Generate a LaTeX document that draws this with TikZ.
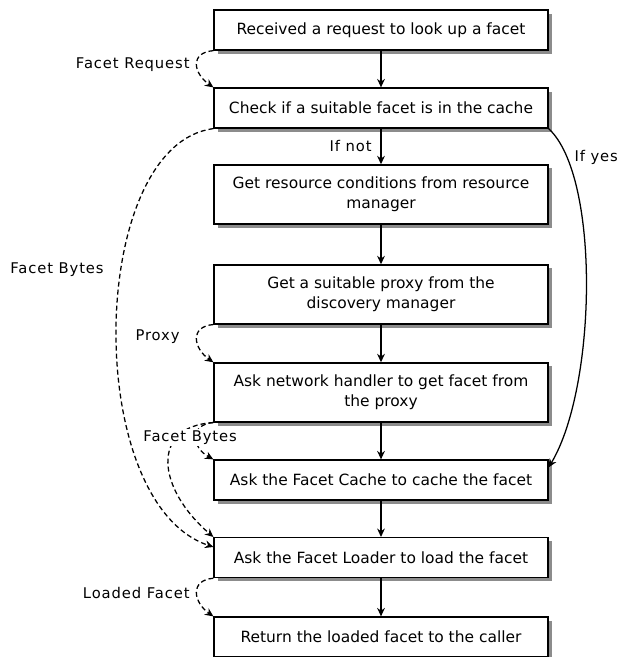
\documentclass[tikz,border=0pt]{standalone}
\usepackage{fontspec}
\setmainfont{DejaVu Sans}
\newfontfamily\lblfont{DejaVu Sans}[LetterSpace=6]
\usetikzlibrary{arrows.meta}

\begin{document}
\begin{tikzpicture}[
  stepbox/.style={draw, line width=0.9pt, fill=white, minimum width=8.35cm, minimum height=1cm, align=center,
    font=\fontsize{11}{14}\selectfont},
  tallbox/.style={stepbox, minimum height=1.475cm},
  boxshade/.style={line width=2.2pt, black!45},
  flow/.style={line width=0.9pt, -{Stealth[length=6pt,width=5.5pt]}},
  data/.style={flow, dash pattern=on 3.5pt off 2.2pt},
  lbl/.style={font=\lblfont\fontsize{10.5}{12}\selectfont}
]
 \useasboundingbox (0,0) rectangle (15.65,-16.425);
 \node[stepbox] (recv) at (9.525,-0.75) {Received a request to look up a facet};
 \node[stepbox] (check) at (9.525,-2.7) {Check if a suitable facet is in the cache};
 \node[tallbox] (res) at (9.525,-4.86) {Get resource conditions from resource\\manager};
 \node[tallbox] (disc) at (9.525,-7.36) {Get a suitable proxy from the\\discovery manager};
 \node[tallbox] (net) at (9.525,-9.81) {Ask network handler to get facet from\\the proxy};
 \node[stepbox] (cache) at (9.525,-12.0) {Ask the Facet Cache to cache the facet};
 \node[stepbox] (loader) at (9.525,-13.94) {Ask the Facet Loader to load the facet};
 \node[stepbox] (ret) at (9.525,-15.925) {Return the loaded facet to the caller};
 \foreach \n in {recv,check,res,disc,net,cache,loader,ret}
  \draw[boxshade] ([shift={(3pt,-1.1pt)}]\n.south west) -- ([shift={(1.1pt,-1.1pt)}]\n.south east) -- ([shift={(1.1pt,-3pt)}]\n.north east);

 \draw[flow] (recv) -- (check);
 \draw[flow] (check) -- node[lbl, left=0.1cm] {If not} (res);
 \draw[flow] (res) -- (disc);
 \draw[flow] (disc) -- (net);
 \draw[flow] (net) -- (cache);
 \draw[flow] (cache) -- (loader);
 \draw[flow] (loader) -- (ret);
 \draw[flow] (check.south east) .. controls +(1.3,-1.2) and +(1.2,2.0) .. ([yshift=-0.2cm]cache.north east)
   node[lbl, pos=0.14, right=0.05cm] {If yes};

 \draw[data] (recv.south west) .. controls +(-0.6,-0.05) and +(-0.5,0.35) .. (check.north west)
   node[lbl, midway, left=0.05cm] {Facet Request};
 \draw[data] (check.south west) .. controls +(-3.15,-0.4) and +(-3.3,1.1) .. ([yshift=-0.25cm]loader.north west)
   node[lbl, pos=0.4, left=0.3cm] {Facet Bytes};
 \draw[data] (disc.south west) .. controls +(-0.6,-0.05) and +(-0.5,0.35) .. (net.north west)
   node[lbl, pos=0.45, left=0.3cm] {Proxy};
 \draw[data] (net.south west) .. controls +(-1.6,-0.1) and +(-1.4,1.2) .. (loader.north west);
 \draw[data] (net.south west) .. controls +(-0.6,-0.05) and +(-0.55,0.3) .. (cache.north west)
   node[lbl, midway, xshift=-0.15cm, fill=white, inner sep=1pt] {Facet Bytes};
 \draw[data] (loader.south west) .. controls +(-0.6,-0.05) and +(-0.5,0.35) .. (ret.north west)
   node[lbl, midway, left=0.05cm] {Loaded Facet};
\end{tikzpicture}
\end{document}
